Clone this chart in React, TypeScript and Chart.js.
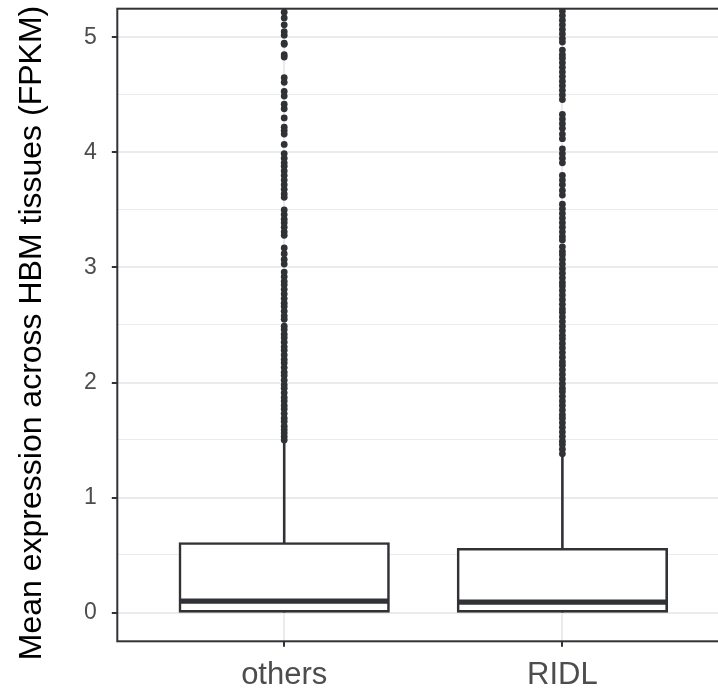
import { useEffect, useRef } from 'react';
import { Chart, registerables } from 'chart.js';

Chart.register(...registerables);

// ---- data ----
const categories = ['others', 'RIDL'];
const q1 = [0.01, 0.01];
const medians = [0.1, 0.09];
const q3 = [0.6, 0.55];
const whiskerLow = [0, 0];
const whiskerHigh = [1.48, 1.36];

const othersOutliers = [
  5.22, 5.17, 5.11, 5.05, 5.02, 4.95, 4.94, 4.85, 4.83, 4.65, 4.61, 4.53, 4.49,
  4.42, 4.38, 4.3, 4.22, 4.19, 4.16, 4.07, 3.99, 3.95, 3.91, 3.88, 3.84, 3.8,
  3.76, 3.72, 3.68, 3.64, 3.61, 3.5, 3.46, 3.42, 3.39, 3.35, 3.31, 3.28, 3.17,
  3.12, 3.07, 3.03, 2.96, 2.92, 2.88, 2.85, 2.81, 2.77, 2.73, 2.69, 2.66, 2.62,
  2.58, 2.55, 2.49, 2.46, 2.42, 2.39, 2.35, 2.31, 2.28, 2.24, 2.2, 2.17, 2.13,
  2.09, 2.06, 2.02, 1.98, 1.95, 1.91, 1.87, 1.84, 1.8, 1.77, 1.73, 1.69, 1.66,
  1.62, 1.59, 1.56, 1.53, 1.5,
];

const ridlOutliers = [
  5.23, 5.19, 5.15, 5.11, 5.07, 5.03, 4.99, 4.96, 4.89, 4.85, 4.82, 4.78, 4.74,
  4.7, 4.66, 4.62, 4.58, 4.54, 4.5, 4.46, 4.33, 4.29, 4.25, 4.21, 4.16, 4.12,
  4.03, 3.99, 3.95, 3.91, 3.8, 3.76, 3.72, 3.67, 3.63, 3.55, 3.51, 3.47, 3.43,
  3.39, 3.35, 3.31, 3.27, 3.24, 3.18, 3.14, 3.11, 3.07, 3.03, 2.99, 2.95, 2.91,
  2.87, 2.84, 2.8, 2.76, 2.72, 2.68, 2.64, 2.61, 2.57, 2.53, 2.49, 2.45, 2.41,
  2.38, 2.34, 2.3, 2.26, 2.22, 2.18, 2.15, 2.11, 2.07, 2.03, 1.99, 1.95, 1.92,
  1.88, 1.84, 1.8, 1.76, 1.72, 1.69, 1.65, 1.61, 1.57, 1.53, 1.49, 1.46, 1.42,
  1.38,
];

const outliers = [othersOutliers, ridlOutliers];

const yMajorTicks = [0, 1, 2, 3, 4, 5];
const yMinorTicks = [0.5, 1.5, 2.5, 3.5, 4.5];
const yAxisTitle = 'Mean expression across HBM tissues (FPKM)';

// ---- styling ----
const INK = '#303236';
const GRID = '#EBEBEB';
const TICK_TEXT = '#4D4D4D';
const FONT = "'Liberation Sans', Arial, Helvetica, sans-serif";
const BOX_WIDTH = 0.75;
const BOX_LINE = 2.6;
const MEDIAN_LINE = 5.2;

// Median bars, whiskers, the panel frame and the rotated y-axis title
const boxDetails = {
  id: 'boxDetails',
  afterDatasetsDraw(chart: any) {
    const { ctx, chartArea, scales } = chart;
    const x = scales.x;
    const y = scales.y;
    ctx.save();
    ctx.beginPath();
    ctx.rect(chartArea.left, chartArea.top, chartArea.right - chartArea.left, chartArea.bottom - chartArea.top);
    ctx.clip();
    ctx.strokeStyle = INK;
    ctx.lineCap = 'butt';
    categories.forEach((_, i) => {
      const cx = x.getPixelForValue(i + 1);
      const half = x.getPixelForValue(i + 1 + BOX_WIDTH / 2) - cx;
      ctx.lineWidth = BOX_LINE;
      ctx.beginPath();
      ctx.moveTo(cx, y.getPixelForValue(q3[i]));
      ctx.lineTo(cx, y.getPixelForValue(whiskerHigh[i]));
      ctx.moveTo(cx, y.getPixelForValue(q1[i]));
      ctx.lineTo(cx, y.getPixelForValue(whiskerLow[i]));
      ctx.stroke();
      const ym = y.getPixelForValue(medians[i]);
      ctx.lineWidth = MEDIAN_LINE;
      ctx.beginPath();
      ctx.moveTo(cx - half, ym);
      ctx.lineTo(cx + half, ym);
      ctx.stroke();
    });
    ctx.restore();
  },
  afterDraw(chart: any) {
    const { ctx, chartArea } = chart;
    ctx.save();
    ctx.strokeStyle = INK;
    ctx.lineWidth = 2;
    ctx.strokeRect(chartArea.left, chartArea.top, chartArea.right - chartArea.left, chartArea.bottom - chartArea.top);

    // y-axis title, centred a little below the panel middle
    ctx.translate(32.2, (chartArea.top + chartArea.bottom) / 2 + 8);
    ctx.rotate(-Math.PI / 2);
    ctx.fillStyle = '#000000';
    ctx.font = `32px ${FONT}`;
    ctx.textAlign = 'center';
    ctx.textBaseline = 'middle';
    ctx.fillText(yAxisTitle, 0, 0);
    ctx.restore();
  },
};

export default function App() {
  const ref = useRef<HTMLCanvasElement>(null);

  useEffect(() => {
    const canvas = ref.current;
    if (!canvas) return;

    const boxData = categories.map((_, i) => ({ x: i + 1, y: [q1[i], q3[i]] }));
    const pointData = outliers.flatMap((vals, i) => vals.map((v) => ({ x: i + 1, y: v })));

    const chart = new Chart(canvas, {
      type: 'bar',
      data: {
        datasets: [
          {
            type: 'bar',
            data: boxData as any,
            backgroundColor: '#FFFFFF',
            borderColor: INK,
            borderWidth: BOX_LINE,
            borderSkipped: false,
            inflateAmount: BOX_LINE / 2,
            categoryPercentage: 1,
            barPercentage: BOX_WIDTH,
          } as any,
          {
            type: 'scatter',
            data: pointData as any,
            pointRadius: 3.4,
            pointBackgroundColor: INK,
            pointBorderWidth: 0,
            clip: 0,
          } as any,
        ],
      },
      plugins: [boxDetails],
      options: {
        responsive: false,
        animation: false,
        events: [],
        devicePixelRatio: 1,
        layout: { padding: { left: 0, top: 8.7, right: 10.7, bottom: 0 } },
        plugins: {
          legend: { display: false },
          tooltip: { enabled: false },
        },
        scales: {
          x: {
            type: 'linear',
            min: 0.4,
            max: 2.6,
            offset: false,
            afterBuildTicks: (scale: any) => {
              scale.ticks = categories.map((_, i) => ({ value: i + 1 }));
            },
            afterFit: (scale: any) => {
              scale.height = 56.7;
              scale.paddingLeft = 0;
              scale.paddingRight = 0;
            },
            border: { display: false },
            grid: {
              offset: false,
              color: GRID,
              lineWidth: 2,
              drawTicks: true,
              tickLength: 5.5,
              tickWidth: 2,
              tickColor: INK,
            },
            ticks: {
              autoSkip: false,
              maxRotation: 0,
              padding: 10,
              color: TICK_TEXT,
              font: { family: FONT, size: 31 },
              callback: (v: any) => categories[Number(v) - 1] ?? '',
            },
          },
          y: {
            type: 'linear',
            min: -0.25,
            max: 5.25,
            afterBuildTicks: (scale: any) => {
              scale.ticks = [...yMajorTicks, ...yMinorTicks]
                .sort((a, b) => a - b)
                .map((v) => ({ value: v }));
            },
            afterFit: (scale: any) => {
              scale.width = 117.3;
              scale.paddingTop = 0;
              scale.paddingBottom = 0;
            },
            border: { display: false },
            grid: {
              color: GRID,
              lineWidth: (c: any) => (yMajorTicks.includes(c.tick?.value) ? 2 : 1.1),
              drawTicks: true,
              tickLength: 5.5,
              tickWidth: 2,
              tickColor: (c: any) => (yMajorTicks.includes(c.tick?.value) ? INK : 'rgba(0,0,0,0)'),
            },
            ticks: {
              autoSkip: false,
              padding: 15,
              color: TICK_TEXT,
              font: { family: FONT, size: 23 },
              callback: (v: any) => (yMajorTicks.includes(Number(v)) ? String(v) : ''),
            },
            title: { display: false },
          },
        },
      } as any,
    });

    return () => chart.destroy();
  }, []);

  return (
    <div
      style={{
        position: 'fixed',
        left: 0,
        top: 0,
        width: 718,
        height: 698,
        overflow: 'hidden',
        background: '#FFFFFF',
      }}
    >
      <canvas ref={ref} width={740} height={698} style={{ display: 'block' }} />
    </div>
  );
}
